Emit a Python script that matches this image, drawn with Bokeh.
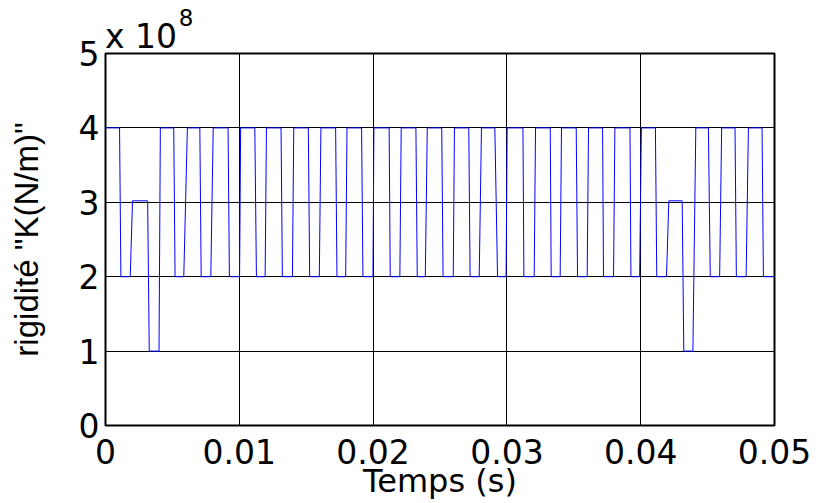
from bokeh.plotting import figure
from bokeh.models import Range1d, FixedTicker, CustomJSTickFormatter, LinearAxis
from bokeh.embed import file_html
from bokeh.resources import INLINE

# Plateaus of the mesh stiffness signal: start time (ms), end time (ms), level (N/m)
seg_start_ms = [0.0, 1.15, 2.02, 3.27, 4.10, 5.20, 6.12, 7.15, 8.05, 9.26,
                10.10, 11.28, 12.03, 13.22, 14.07, 15.26, 16.10, 17.30, 18.05, 19.24,
                20.06, 21.28, 22.10, 23.30, 24.05, 25.23, 26.08, 27.25, 28.10, 29.30,
                30.02, 31.27, 32.14, 33.31, 34.08, 35.28, 36.10, 37.22, 38.07, 39.27,
                40.05, 41.20, 42.10, 43.22, 44.12, 45.20, 46.05, 47.15, 48.05, 49.17]
seg_end_ms = [1.05, 1.85, 3.15, 4.00, 5.10, 5.85, 7.05, 7.87, 9.16, 10.02,
              11.16, 11.93, 13.12, 13.97, 15.16, 15.98, 17.20, 17.95, 19.14, 19.99,
              21.20, 22.00, 23.20, 23.90, 25.13, 25.99, 27.15, 27.93, 29.10, 29.94,
              31.20, 32.04, 33.24, 33.98, 35.18, 36.00, 37.15, 37.97, 39.20, 39.92,
              41.10, 41.93, 43.10, 43.90, 45.06, 45.90, 47.05, 47.88, 49.07, 50.00]
seg_level = [4e8, 2e8, 3.02e8, 1e8, 4e8, 2e8, 4e8, 2e8, 4e8, 2e8,
             4e8, 2e8, 4e8, 2e8, 4e8, 2e8, 4e8, 2e8, 4e8, 2e8,
             4e8, 2e8, 4e8, 2e8, 4e8, 2e8, 4e8, 2e8, 4e8, 2e8,
             4e8, 2e8, 4e8, 2e8, 4e8, 2e8, 4e8, 2e8, 4e8, 2e8,
             4e8, 2e8, 3.02e8, 1e8, 4e8, 2e8, 4e8, 2e8, 4e8, 2e8]

x_ticks = [0.0, 0.01, 0.02, 0.03, 0.04, 0.05]
y_ticks = [0.0, 1e8, 2e8, 3e8, 4e8, 5e8]

# exponent marker "x 10^8" above the top-left corner
exp_base_text = "x 10"
exp_power_text = "8"

xs, ys = [], []
for a, b, v in zip(seg_start_ms, seg_end_ms, seg_level):
    xs += [a / 1000.0, b / 1000.0]
    ys += [v, v]

TICK_FONT = "DejaVu Sans"
FRAME_W = 817 - 105 - 43
X_PER_PX = 0.05 / FRAME_W

p = figure(width=817, height=503, output_backend="svg", toolbar_location=None,
           x_range=Range1d(0, 0.05), y_range=Range1d(0, 5e8),
           min_border_left=105, min_border_right=43, min_border_top=53,
           min_border_bottom=78, background_fill_color="white",
           border_fill_color="white")

p.line(xs, ys, line_color="#0000ff", line_width=1)

p.outline_line_color = "black"
p.outline_line_width = 2
p.outline_line_alpha = 1

for g in (p.xgrid, p.ygrid):
    g.grid_line_color = "black"
    g.grid_line_alpha = 1
    g.grid_line_width = 1
p.xgrid.ticker = FixedTicker(ticks=x_ticks)
p.ygrid.ticker = FixedTicker(ticks=y_ticks)

p.xaxis.ticker = FixedTicker(ticks=x_ticks)
p.yaxis.ticker = FixedTicker(ticks=y_ticks)
p.xaxis.formatter = CustomJSTickFormatter(code="return tick == 0 ? '0' : tick.toFixed(2);")
p.yaxis.formatter = CustomJSTickFormatter(code="return (tick/1e8).toFixed(0);")


def plain_axis(ax, size):
    ax.axis_line_color = None
    ax.major_tick_in = 0
    ax.major_tick_out = 0
    ax.minor_tick_line_color = None
    ax.major_label_text_font = TICK_FONT
    ax.major_label_text_font_size = size
    ax.major_label_text_color = "black"
    ax.axis_label_text_font_style = "normal"
    ax.axis_label_text_color = "black"


plain_axis(p.xaxis[0], "33px")
plain_axis(p.yaxis[0], "33px")

p.yaxis.major_label_standoff = 6
p.xaxis.major_label_standoff = 13

p.xaxis.axis_label = "Temps (s)"
p.xaxis.axis_label_text_font = TICK_FONT
p.xaxis.axis_label_text_font_size = "32px"
p.xaxis.axis_label_standoff = -5

p.yaxis.axis_label = 'rigidité "K(N/m)"'
p.yaxis.axis_label_text_font = "Liberation Sans"
p.yaxis.axis_label_text_font_size = "33px"
p.yaxis.axis_label_standoff = 31

# "x 10" and the raised "8", each drawn as the single label of a bare top axis
base_axis = LinearAxis(ticker=FixedTicker(ticks=[35.5 * X_PER_PX]),
                       formatter=CustomJSTickFormatter(code='return "%s";' % exp_base_text))
plain_axis(base_axis, "33px")
base_axis.major_label_standoff = -2
p.add_layout(base_axis, "above")

power_axis = LinearAxis(ticker=FixedTicker(ticks=[80.5 * X_PER_PX]),
                        formatter=CustomJSTickFormatter(code='return "%s";' % exp_power_text))
plain_axis(power_axis, "23px")
power_axis.major_label_standoff = -12
p.add_layout(power_axis, "above")

open("out.html", "w").write(file_html(p, INLINE))
